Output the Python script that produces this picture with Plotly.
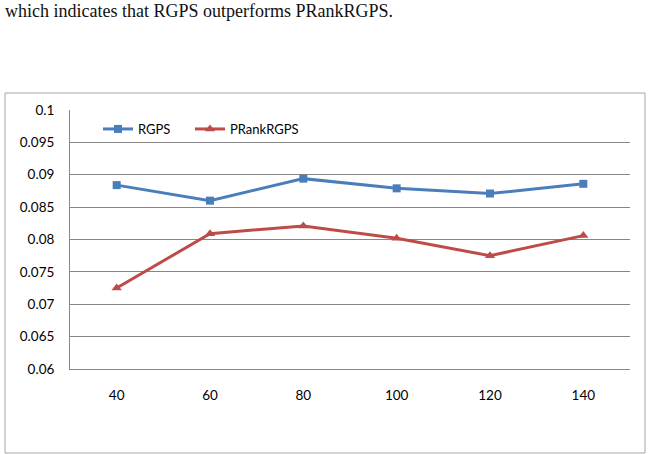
import plotly.graph_objects as go

categories = ["40", "60", "80", "100", "120", "140"]
rgps = [0.0884, 0.0860, 0.0894, 0.0879, 0.0871, 0.0886]
prank = [0.0725, 0.0809, 0.0821, 0.0802, 0.0775, 0.0806]
y_ticks = [0.06, 0.065, 0.07, 0.075, 0.08, 0.085, 0.09, 0.095, 0.1]
y_tick_labels = ["0.06", "0.065", "0.07", "0.075", "0.08", "0.085", "0.09", "0.095", "0.1"]

W, H = 651, 454
L, R, T, B = 70, 630, 110, 369

def px(x):
    return (x - L) / (R - L)

def py(y):
    return (B - y) / (B - T)

fig = go.Figure()
fig.add_trace(go.Scatter(
    x=categories, y=rgps, name="RGPS", mode="lines+markers",
    line=dict(color="#4A7EBB", width=3),
    marker=dict(symbol="square", size=8, color="#4A7EBB"),
    legend="legend",
))
fig.add_trace(go.Scatter(
    x=categories, y=prank, name="PRankRGPS", mode="lines+markers",
    line=dict(color="#BE4B48", width=3),
    marker=dict(symbol="triangle-up", size=9, color="#BE4B48"),
    legend="legend2",
))

legend_common = dict(
    orientation="h", xanchor="left", yanchor="middle",
    bgcolor="rgba(0,0,0,0)", font=dict(size=13), itemwidth=30,
)

fig.update_layout(
    width=W, height=H,
    margin=dict(l=L, r=W - R, t=T, b=H - B, pad=0),
    paper_bgcolor="white", plot_bgcolor="white",
    font=dict(family="Lato, Liberation Sans, sans-serif", size=13, color="#000000"),
    showlegend=True,
    legend=dict(x=px(98), y=py(129), **legend_common),
    legend2=dict(x=px(190), y=py(129), **legend_common),
    xaxis=dict(
        type="category", range=[-0.5, 5.5], showgrid=False, showline=True,
        linecolor="#868686", linewidth=1, ticks="", ticklabelstandoff=14,
        zeroline=False, tickfont=dict(size=13.5),
    ),
    yaxis=dict(
        range=[0.06, 0.1], tickvals=y_ticks, ticktext=y_tick_labels,
        showgrid=True, gridcolor="#868686", gridwidth=1,
        showline=True, linecolor="#868686", linewidth=1,
        ticks="", ticklabelstandoff=12, zeroline=False,
        tickfont=dict(size=13.5),
    ),
    shapes=[
        dict(type="rect", xref="paper", yref="paper",
             x0=px(5), x1=px(645), y0=py(453), y1=py(93),
             line=dict(color="#A6A6A6", width=1), fillcolor="rgba(0,0,0,0)",
             layer="below"),
    ],
    annotations=[
        dict(text="which indicates that RGPS outperforms PRankRGPS.",
             xref="paper", yref="paper", x=px(3), y=py(-1),
             xanchor="left", yanchor="top", showarrow=False,
             font=dict(family="Liberation Serif, serif", size=18, color="#111111")),
    ],
)

fig.write_html("out.html")
